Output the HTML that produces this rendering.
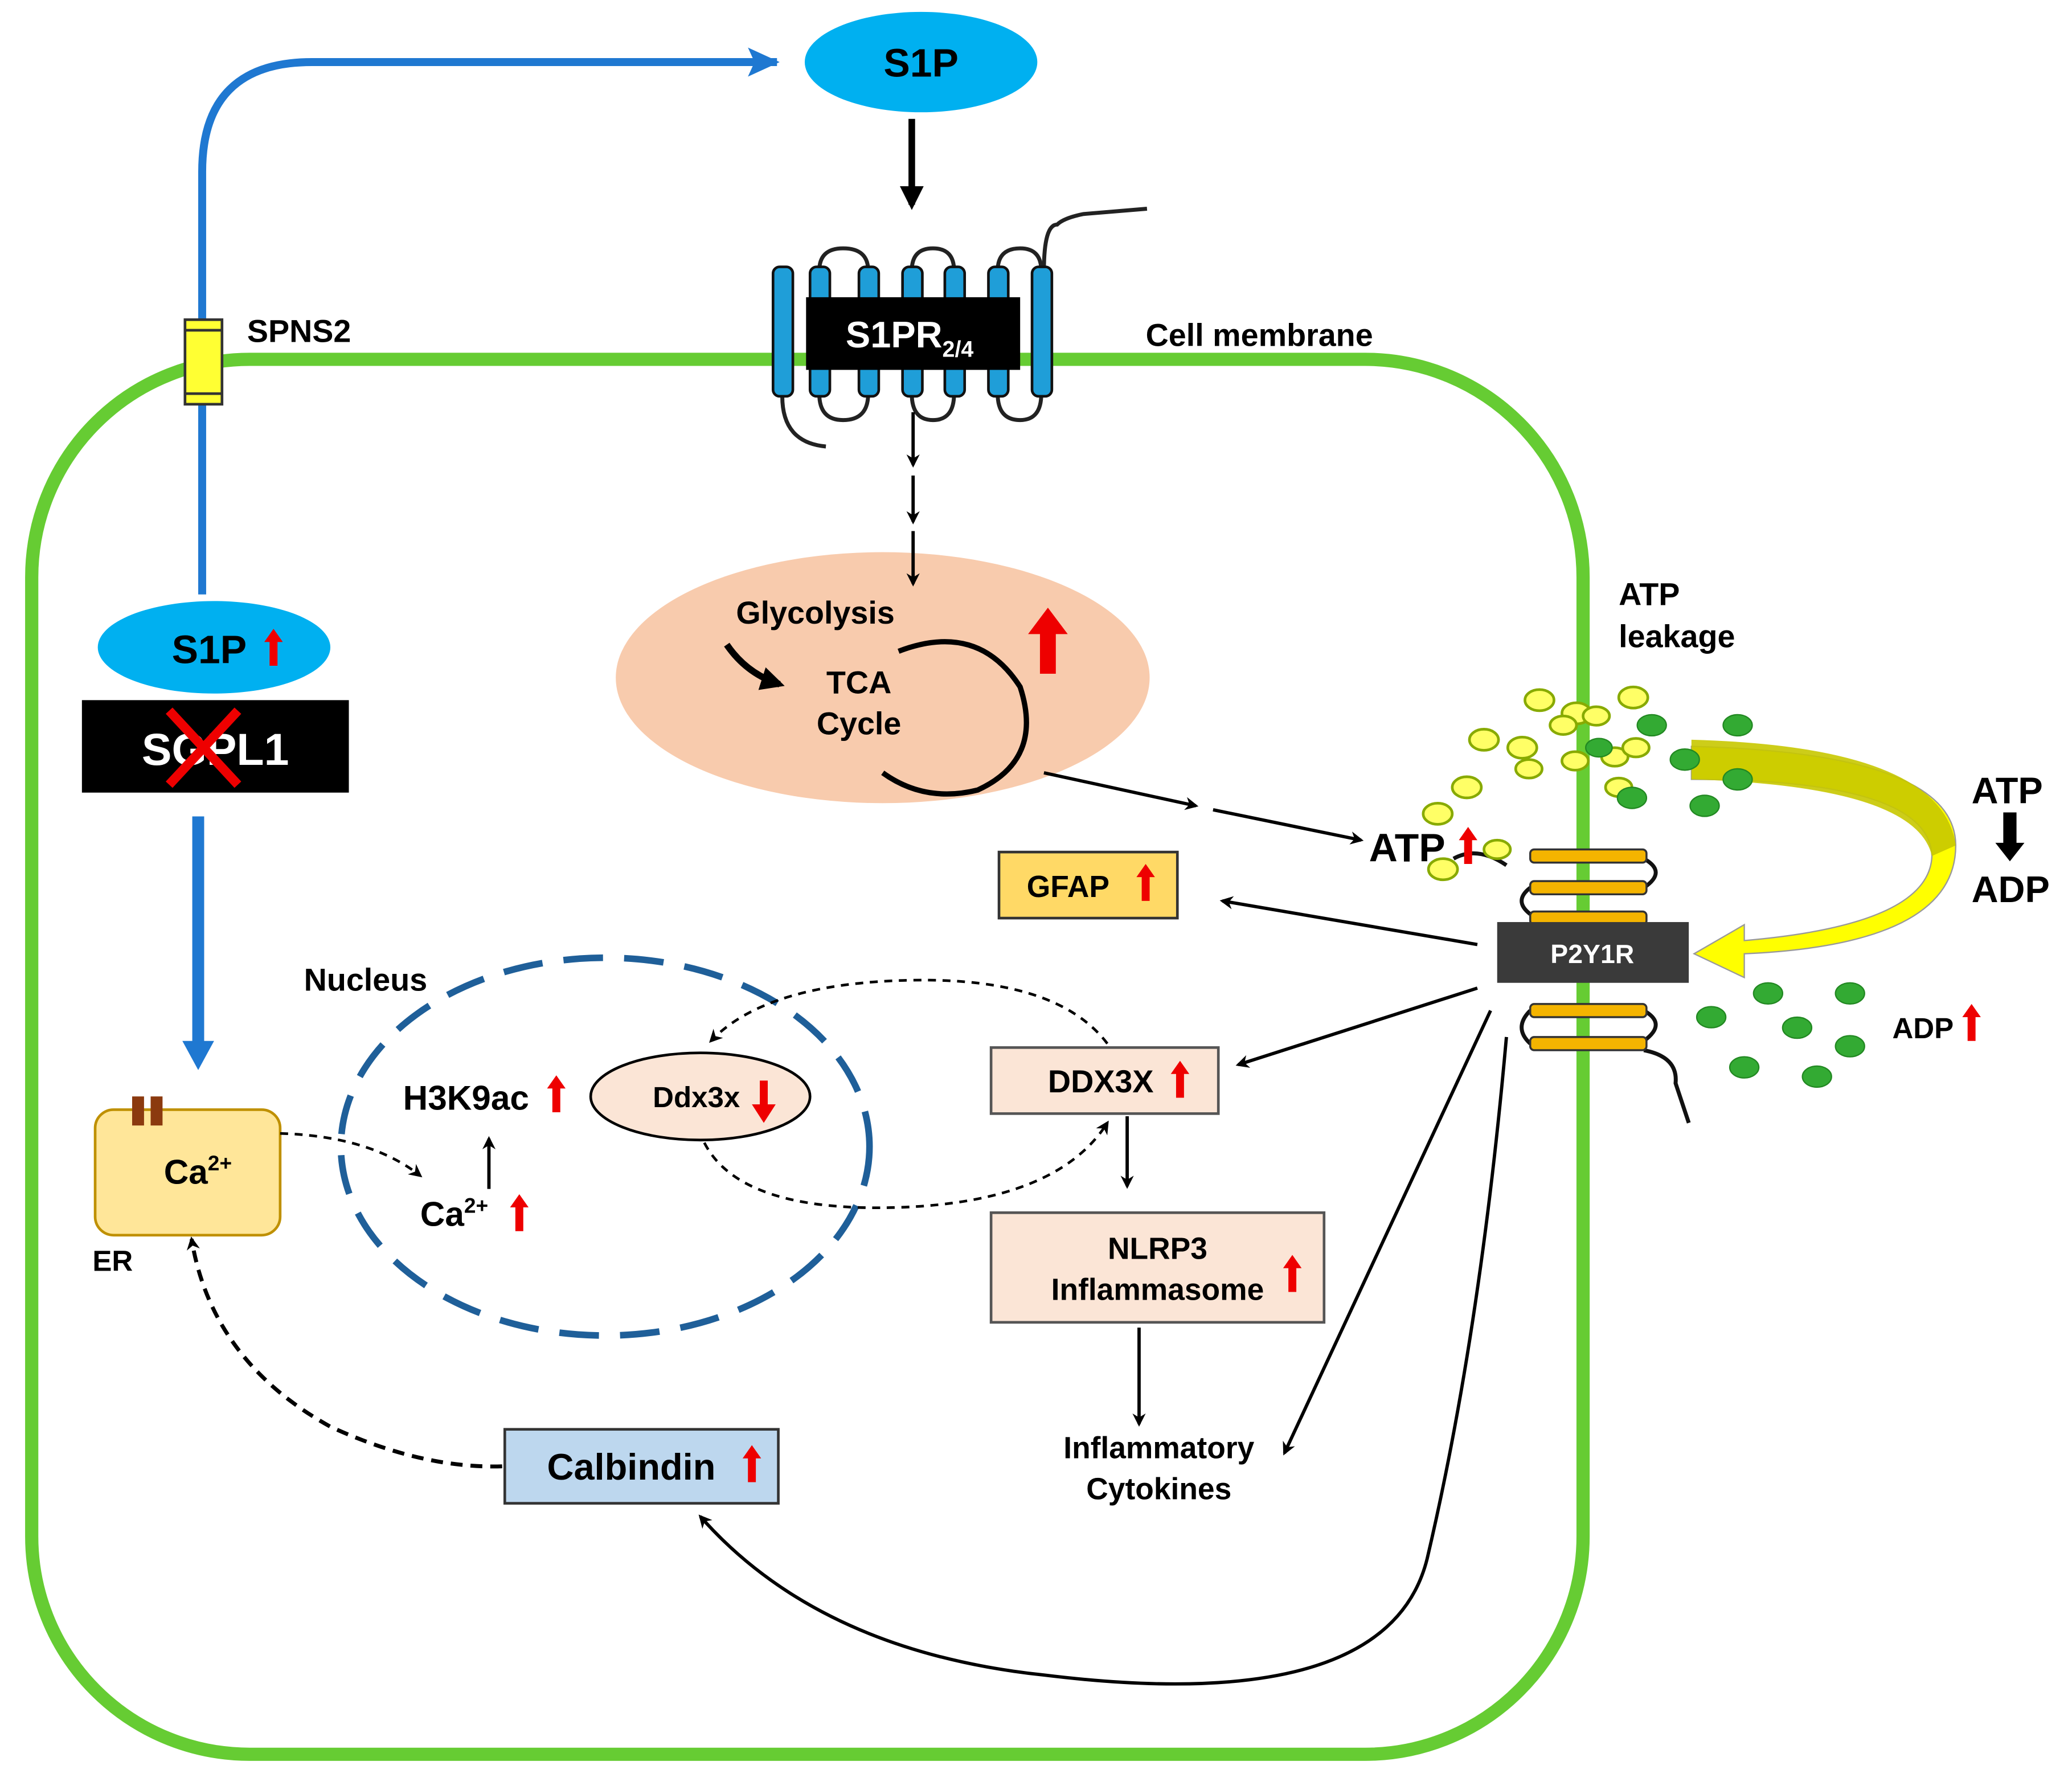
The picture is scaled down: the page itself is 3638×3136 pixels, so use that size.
<!DOCTYPE html>
<html><head><meta charset="utf-8"><style>
html,body{margin:0;padding:0;background:#fff;}
svg{display:block;}
text{font-family:"Liberation Sans",Arial,sans-serif;font-weight:bold;}
</style></head><body>
<svg width="3638" height="3136" viewBox="0 0 1568 1352" preserveAspectRatio="none" xmlns="http://www.w3.org/2000/svg">
<defs>
<marker id="ah" markerWidth="10" markerHeight="10" refX="8" refY="5" orient="auto" markerUnits="userSpaceOnUse"><path d="M0,0 L10,5 L0,10 L3,5 Z" fill="#000"/></marker>
<marker id="ahb" markerWidth="18" markerHeight="18" refX="14" refY="9" orient="auto" markerUnits="userSpaceOnUse"><path d="M0,0 L18,9 L0,18 Z" fill="#000"/></marker>
<marker id="ahblue" markerWidth="26" markerHeight="22" refX="22" refY="11" orient="auto" markerUnits="userSpaceOnUse"><path d="M0,0 L24,11 L0,22 L5,11 Z" fill="#1f78d1"/></marker>
<g id="ru"><path d="M-3,14 L-3,-4 L-7,-4 L0,-14 L7,-4 L3,-4 L3,14 Z" fill="#e00"/></g>
</defs>

<rect x="24" y="272" width="1174" height="1056" rx="165" ry="165" fill="none" stroke="#66cc33" stroke-width="10"/>

<path d="M153,450 L153,130 Q153,47 236,47 L588,47" fill="none" stroke="#1f78d1" stroke-width="6" marker-end="url(#ahblue)"/>
<rect x="140" y="242" width="28" height="64" fill="#ffff33" stroke="#333" stroke-width="2"/>
<line x1="140" y1="250" x2="168" y2="250" stroke="#333" stroke-width="2"/>
<line x1="140" y1="298" x2="168" y2="298" stroke="#333" stroke-width="2"/>
<text x="187" y="259" font-size="24">SPNS2</text>

<ellipse cx="697" cy="47" rx="88" ry="38" fill="#00b0f0"/>
<text x="697" y="58" font-size="30" text-anchor="middle">S1P</text>
<line x1="690" y1="90" x2="690" y2="155" stroke="#000" stroke-width="5" marker-end="url(#ahb)"/>

<g fill="none" stroke="#222" stroke-width="3">
<path d="M790,205 Q790,170 800,170 Q805,165 820,162 L868,158"/>
<path d="M592,300 Q592,335 625,338"/>
<path d="M620,205 Q620,188 638,188 Q657,188 657,205"/>
<path d="M690,205 Q690,188 706,188 Q722,188 722,205"/>
<path d="M755,205 Q755,188 772,188 Q788,188 788,205"/>
<path d="M620,298 Q620,318 638,318 Q657,318 657,298"/>
<path d="M690,298 Q690,318 706,318 Q722,318 722,298"/>
<path d="M755,298 Q755,318 772,318 Q788,318 788,298"/>
</g>
<g fill="#1f9ed8" stroke="#111" stroke-width="2">
<rect x="585" y="202" width="15" height="98" rx="5"/>
<rect x="613" y="202" width="15" height="98" rx="5"/>
<rect x="650" y="202" width="15" height="98" rx="5"/>
<rect x="683" y="202" width="15" height="98" rx="5"/>
<rect x="715" y="202" width="15" height="98" rx="5"/>
<rect x="748" y="202" width="15" height="98" rx="5"/>
<rect x="781" y="202" width="15" height="98" rx="5"/>
</g>
<rect x="610" y="225" width="162" height="55" fill="#000"/>
<text x="640" y="263" font-size="28" fill="#fff">S1PR<tspan font-size="17" dy="7">2/4</tspan></text>
<text x="867" y="262" font-size="24">Cell membrane</text>

<ellipse cx="668" cy="513" rx="202" ry="95" fill="#f8cbad"/>
<line x1="691" y1="312" x2="691" y2="352" stroke="#000" stroke-width="2.5" marker-end="url(#ah)"/>
<line x1="691" y1="360" x2="691" y2="395" stroke="#000" stroke-width="2.5" marker-end="url(#ah)"/>
<line x1="691" y1="402" x2="691" y2="442" stroke="#000" stroke-width="2.5" marker-end="url(#ah)"/>
<text x="557" y="472" font-size="24">Glycolysis</text>
<text x="650" y="525" font-size="24" text-anchor="middle">TCA</text>
<text x="650" y="556" font-size="24" text-anchor="middle">Cycle</text>
<path d="M550,488 Q565,510 590,518" fill="none" stroke="#000" stroke-width="5" marker-end="url(#ahb)"/>
<path d="M680,493 Q740,470 772,520 Q790,575 740,598 Q700,608 668,585" fill="none" stroke="#000" stroke-width="4"/>
<path d="M787,510 L787,480 L778,480 L793,460 L808,480 L799,480 L799,510 Z" fill="#e00"/>

<line x1="790" y1="585" x2="905" y2="610" stroke="#000" stroke-width="2.5" marker-end="url(#ah)"/>
<line x1="918" y1="613" x2="1030" y2="636" stroke="#000" stroke-width="2.5" marker-end="url(#ah)"/>

<ellipse cx="162" cy="490" rx="88" ry="35" fill="#00b0f0"/>
<text x="130" y="502" font-size="30">S1P</text>
<use href="#ru" x="207" y="490"/>
<rect x="62" y="530" width="202" height="70" fill="#000"/>
<text x="163" y="579" font-size="34" fill="#fff" text-anchor="middle">SGPL1</text>
<line x1="128" y1="538" x2="180" y2="594" stroke="#e00" stroke-width="7"/>
<line x1="180" y1="538" x2="128" y2="594" stroke="#e00" stroke-width="7"/>
<line x1="150" y1="618" x2="150" y2="790" stroke="#1f78d1" stroke-width="9"/>
<path d="M138,788 L162,788 L150,810 Z" fill="#1f78d1"/>

<rect x="72" y="840" width="140" height="95" rx="14" fill="#ffe699" stroke="#bf9000" stroke-width="2"/>
<rect x="100" y="830" width="9" height="22" fill="#8b3a0f"/>
<rect x="114" y="830" width="9" height="22" fill="#8b3a0f"/>
<text x="124" y="896" font-size="26">Ca<tspan font-size="16" dy="-10">2+</tspan></text>
<text x="70" y="962" font-size="22">ER</text>
<path d="M212,858 Q280,860 318,890" fill="none" stroke="#000" stroke-width="2" stroke-dasharray="6,5" marker-end="url(#ah)"/>

<ellipse cx="458" cy="868" rx="200" ry="143" fill="none" stroke="#1f5f99" stroke-width="5" stroke-dasharray="30,16"/>
<text x="230" y="750" font-size="24">Nucleus</text>
<text x="305" y="840" font-size="26">H3K9ac</text>
<use href="#ru" x="421" y="828"/>
<text x="318" y="928" font-size="26">Ca<tspan font-size="16" dy="-10">2+</tspan></text>
<use href="#ru" x="393" y="918"/>
<line x1="370" y1="900" x2="370" y2="862" stroke="#000" stroke-width="2.5" marker-end="url(#ah)"/>
<ellipse cx="530" cy="830" rx="83" ry="33" fill="#fbe5d6" stroke="#000" stroke-width="2"/>
<text x="494" y="838" font-size="22">Ddx3x</text>
<path d="M575,818 L575,836 L569,836 L578,850 L587,836 L581,836 L581,818 Z" fill="#e00"/>

<path d="M838,790 Q800,740 690,742 Q580,744 538,788" fill="none" stroke="#000" stroke-width="2" stroke-dasharray="6,5" marker-end="url(#ah)"/>
<path d="M533,865 Q560,918 680,914 Q800,910 838,850" fill="none" stroke="#000" stroke-width="2" stroke-dasharray="6,5" marker-end="url(#ah)"/>

<rect x="750" y="793" width="172" height="50" fill="#fbe5d6" stroke="#555" stroke-width="2"/>
<text x="793" y="827" font-size="24">DDX3X</text>
<use href="#ru" x="893" y="817"/>
<line x1="853" y1="845" x2="853" y2="898" stroke="#000" stroke-width="2.5" marker-end="url(#ah)"/>
<rect x="750" y="918" width="252" height="83" fill="#fbe5d6" stroke="#555" stroke-width="2"/>
<text x="876" y="953" font-size="23" text-anchor="middle">NLRP3</text>
<text x="876" y="984" font-size="23" text-anchor="middle">Inflammasome</text>
<use href="#ru" x="978" y="964"/>
<line x1="862" y1="1005" x2="862" y2="1078" stroke="#000" stroke-width="2.5" marker-end="url(#ah)"/>
<text x="877" y="1104" font-size="23" text-anchor="middle">Inflammatory</text>
<text x="877" y="1135" font-size="23" text-anchor="middle">Cytokines</text>

<rect x="756" y="645" width="135" height="50" fill="#ffd966" stroke="#333" stroke-width="2"/>
<text x="777" y="679" font-size="23">GFAP</text>
<use href="#ru" x="867" y="668"/>

<rect x="382" y="1082" width="207" height="56" fill="#bdd7ee" stroke="#333" stroke-width="2"/>
<text x="414" y="1120" font-size="28">Calbindin</text>
<use href="#ru" x="569" y="1108"/>
<path d="M380,1110 Q320,1112 250,1080 Q160,1030 145,938" fill="none" stroke="#000" stroke-width="3" stroke-dasharray="9,6" marker-end="url(#ah)"/>

<line x1="1118" y1="715" x2="925" y2="682" stroke="#000" stroke-width="2.5" marker-end="url(#ah)"/>
<line x1="1118" y1="748" x2="937" y2="806" stroke="#000" stroke-width="2.5" marker-end="url(#ah)"/>
<line x1="1128" y1="765" x2="972" y2="1100" stroke="#000" stroke-width="2.5" marker-end="url(#ah)"/>
<path d="M1140,785 Q1120,1010 1080,1180 Q1050,1300 790,1268 Q620,1250 530,1148" fill="none" stroke="#000" stroke-width="2.5" marker-end="url(#ah)"/>

<g fill="none" stroke="#111" stroke-width="3">
<path d="M1140,655 Q1118,640 1100,650"/>
<path d="M1244,650 Q1262,660 1244,672"/>
<path d="M1158,672 Q1145,682 1158,692"/>
<path d="M1244,765 Q1262,775 1244,788"/>
<path d="M1158,765 Q1145,778 1158,790"/>
<path d="M1244,795 Q1270,800 1268,820 L1278,850"/>
</g>
<g fill="#f4b400" stroke="#333" stroke-width="1.5">
<rect x="1158" y="643" width="88" height="10" rx="3"/>
<rect x="1158" y="667" width="88" height="10" rx="3"/>
<rect x="1158" y="690" width="88" height="10" rx="3"/>
<rect x="1158" y="760" width="88" height="10" rx="3"/>
<rect x="1158" y="785" width="88" height="10" rx="3"/>
</g>
<rect x="1133" y="698" width="145" height="46" fill="#3a3a3a"/>
<text x="1205" y="729" font-size="20" fill="#fff" text-anchor="middle">P2Y1R</text>

<path d="M1280,565 Q1480,570 1480,640 Q1480,715 1320,722 L1320,740 L1282,722 L1320,700 L1320,712 Q1460,700 1462,648 Q1460,590 1280,590 Z" fill="#ffff00" stroke="#999" stroke-width="1"/>
<path d="M1280,560 Q1470,565 1480,640 L1462,648 Q1450,595 1280,590 Z" fill="#c8c800" opacity="0.9"/>

<g fill="#ffff66" stroke="#88aa00" stroke-width="2">
<ellipse cx="1165" cy="530" rx="11" ry="8"/>
<ellipse cx="1193" cy="540" rx="11" ry="8"/>
<ellipse cx="1236" cy="528" rx="11" ry="8"/>
<ellipse cx="1208" cy="542" rx="10" ry="7"/>
<ellipse cx="1183" cy="549" rx="10" ry="7"/>
<ellipse cx="1123" cy="560" rx="11" ry="8"/>
<ellipse cx="1152" cy="566" rx="11" ry="8"/>
<ellipse cx="1157" cy="582" rx="10" ry="7"/>
<ellipse cx="1192" cy="576" rx="10" ry="7"/>
<ellipse cx="1222" cy="573" rx="10" ry="7"/>
<ellipse cx="1238" cy="566" rx="10" ry="7"/>
<ellipse cx="1110" cy="596" rx="11" ry="8"/>
<ellipse cx="1225" cy="596" rx="10" ry="7"/>
<ellipse cx="1088" cy="616" rx="11" ry="8"/>
<ellipse cx="1133" cy="643" rx="10" ry="7"/>
<ellipse cx="1092" cy="658" rx="11" ry="8"/>
</g>
<g fill="#33aa33" stroke="#228822" stroke-width="1">
<ellipse cx="1250" cy="549" rx="11" ry="8"/>
<ellipse cx="1315" cy="549" rx="11" ry="8"/>
<ellipse cx="1210" cy="566" rx="10" ry="7"/>
<ellipse cx="1275" cy="575" rx="11" ry="8"/>
<ellipse cx="1315" cy="590" rx="11" ry="8"/>
<ellipse cx="1235" cy="604" rx="11" ry="8"/>
<ellipse cx="1290" cy="610" rx="11" ry="8"/>
<ellipse cx="1338" cy="752" rx="11" ry="8"/>
<ellipse cx="1400" cy="752" rx="11" ry="8"/>
<ellipse cx="1295" cy="770" rx="11" ry="8"/>
<ellipse cx="1360" cy="778" rx="11" ry="8"/>
<ellipse cx="1400" cy="792" rx="11" ry="8"/>
<ellipse cx="1320" cy="808" rx="11" ry="8"/>
<ellipse cx="1375" cy="815" rx="11" ry="8"/>
</g>
<text x="1036" y="652" font-size="30">ATP</text>
<use href="#ru" x="1111" y="640"/>

<text x="1225" y="458" font-size="24">ATP</text>
<text x="1225" y="490" font-size="24">leakage</text>
<text x="1492" y="608" font-size="28">ATP</text>
<path d="M1516,615 L1516,638 L1510,638 L1521,652 L1532,638 L1526,638 L1526,615 Z" fill="#000"/>
<text x="1492" y="683" font-size="28">ADP</text>
<text x="1432" y="786" font-size="22">ADP</text>
<use href="#ru" x="1492" y="774"/>
</svg>
</body></html>
